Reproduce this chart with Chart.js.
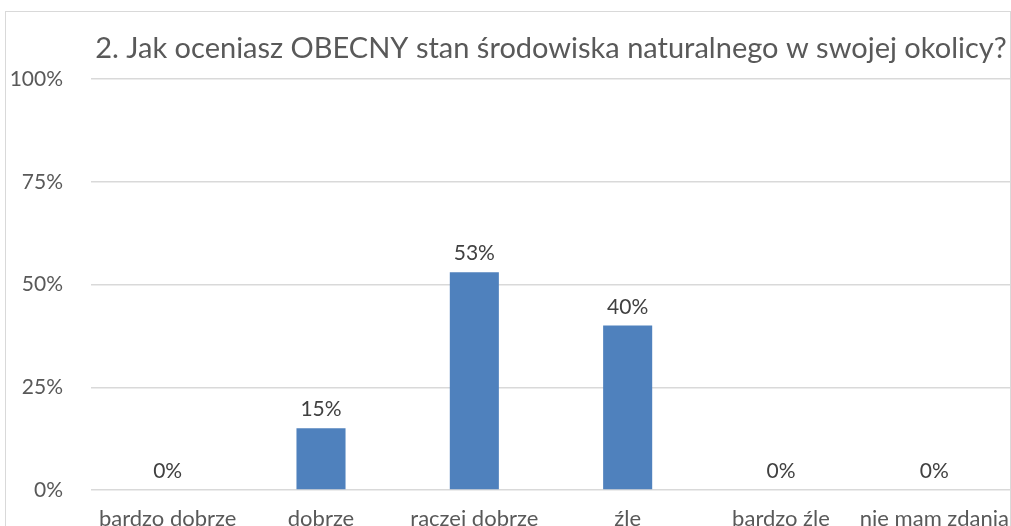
<!DOCTYPE html>
<html>
<head>
<meta charset="utf-8">
<script src="https://cdn.jsdelivr.net/npm/chart.js@4.4.1/dist/chart.umd.min.js"></script>
<style>
  html, body { margin: 0; padding: 0; background: #fff; overflow: hidden; }
  #wrap { position: absolute; left: 5px; top: 11px; width: 1006px; height: 540px; }
  #frame { position: absolute; left: 5px; top: 11px; width: 1004px; height: 540px;
           border: 1.5px solid #d9d9d9; pointer-events: none; }
</style>
</head>
<body>
<div id="wrap"><canvas id="chart"></canvas></div>
<div id="frame"></div>
<script>
const chartTitle = '2. Jak oceniasz OBECNY stan środowiska naturalnego w swojej okolicy?';
const categories = ['bardzo dobrze', 'dobrze', 'raczej dobrze', 'źle', 'bardzo źle', 'nie mam zdania'];
const values = [0, 15, 53, 40, 0, 0];
const yTicks = [0, 25, 50, 75, 100];

const textGray = '#595959';
const fontFamily = 'Lato, "Open Sans", sans-serif';

// tytuł wyśrodkowany nad obszarem wykresu
const titlePlugin = {
  id: 'centerTitle',
  afterDraw(chart) {
    const ctx = chart.ctx;
    const area = chart.chartArea;
    ctx.save();
    ctx.font = '29px ' + fontFamily;
    ctx.fillStyle = textGray;
    ctx.textAlign = 'center';
    ctx.textBaseline = 'alphabetic';
    ctx.fillText(chartTitle, (area.left + area.right) / 2, 47);
    ctx.restore();
  }
};

// etykiety wartości nad słupkami
const labelPlugin = {
  id: 'barLabels',
  afterDatasetsDraw(chart) {
    const ctx = chart.ctx;
    const meta = chart.getDatasetMeta(0);
    ctx.save();
    ctx.font = '21px ' + fontFamily;
    ctx.fillStyle = '#404040';
    ctx.textAlign = 'center';
    ctx.textBaseline = 'alphabetic';
    meta.data.forEach((bar, i) => {
      ctx.fillText(values[i] + '%', bar.x, bar.y - 12);
    });
    ctx.restore();
  }
};

const ctx = document.getElementById('chart').getContext('2d');
const chart = new Chart(ctx, {
  type: 'bar',
  data: {
    labels: categories,
    datasets: [{
      data: values,
      backgroundColor: '#4f81bd',
      borderWidth: 0,
      categoryPercentage: 1,
      barPercentage: 0.32
    }]
  },
  options: {
    responsive: true,
    maintainAspectRatio: false,
    animation: false,
    layout: { padding: { top: 68, right: 0, left: 0, bottom: 0 } },
    plugins: {
      legend: { display: false },
      title: { display: false },
      tooltip: { enabled: false }
    },
    scales: {
      x: {
        grid: { display: false, drawTicks: false },
        border: { display: false },
        ticks: {
          color: textGray,
          font: { family: fontFamily, size: 22 },
          padding: 16,
          maxRotation: 0,
          autoSkip: false
        },
        afterFit(scale) {
          scale.height = 61;
          scale.paddingLeft = 0;
          scale.paddingRight = 0;
        }
      },
      y: {
        min: 0,
        max: 100,
        afterBuildTicks(scale) { scale.ticks = yTicks.map(v => ({ value: v })); },
        grid: { color: '#d9d9d9', lineWidth: 1.5, drawTicks: false },
        border: { display: false },
        ticks: {
          color: textGray,
          font: { family: fontFamily, size: 21 },
          padding: 28,
          callback: v => v + '%'
        },
        afterFit(scale) { scale.width = 86; }
      }
    }
  },
  plugins: [titlePlugin, labelPlugin]
});
</script>
</body>
</html>
